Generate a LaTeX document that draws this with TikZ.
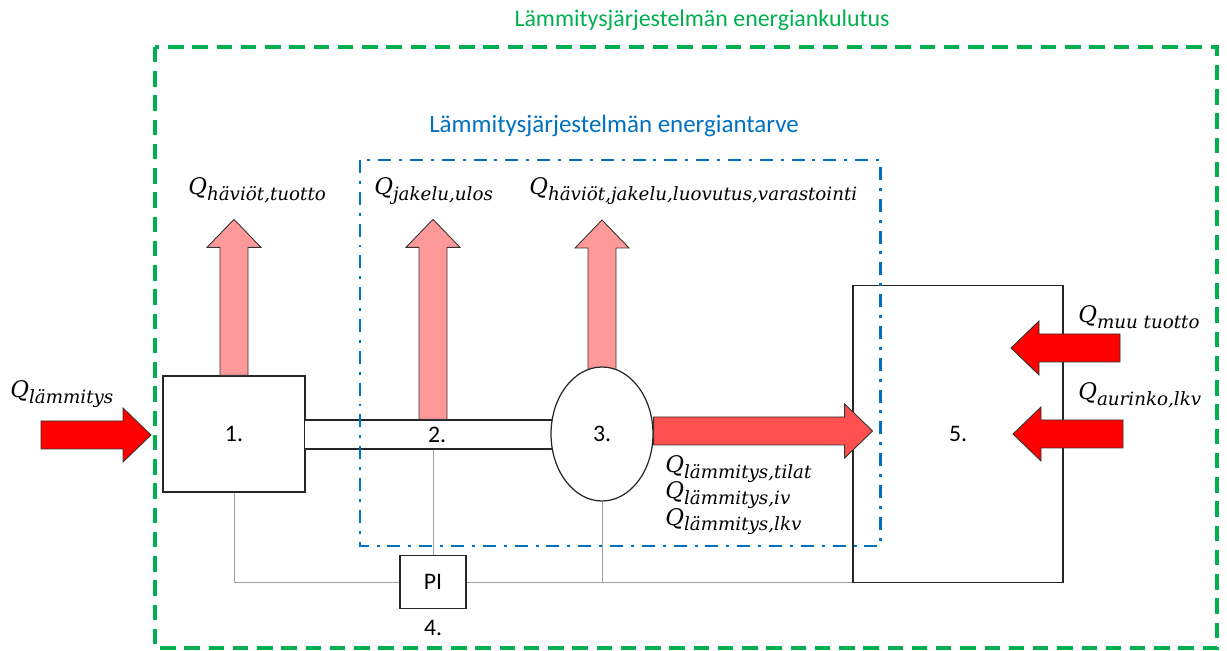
\documentclass[tikz,border=0pt]{standalone}
\usepackage{amsmath}
\usepackage{fontspec}
\usepackage{tikz}
\usetikzlibrary{shapes.geometric,backgrounds}
\newfontfamily\calibri{Carlito}
\newfontfamily\qfont{DejaVu Serif}
\definecolor{kulutus}{RGB}{0,176,80}
\definecolor{tarve}{RGB}{0,112,192}
\definecolor{hukka}{RGB}{255,153,153}
\definecolor{lampo}{RGB}{255,80,80}

% energy flow symbol: Q with a long italic index
\newcommand{\Q}[1]{{\qfont\itshape\fontsize{13}{15}\selectfont Q\raisebox{-0.5ex}{\fontsize{10.4}{12}\selectfont #1}}}

% block arrows, parameter = shaft length
\tikzset{
  pics/upblock/.style={code={
    \path[pic actions] (-14,0) -- (-14,-#1) -- (-27,-#1) -- (0,-#1-28) -- (27,-#1) -- (14,-#1) -- (14,0) -- cycle;}},
  pics/rightblock/.style={code={
    \path[pic actions] (0,-14) -- (#1,-14) -- (#1,-27) -- (#1+28,0) -- (#1,27) -- (#1,14) -- (0,14) -- cycle;}},
  pics/leftblock/.style={code={
    \path[pic actions] (0,-14) -- (-#1,-14) -- (-#1,-27) -- (-#1-28,0) -- (-#1,27) -- (-#1,14) -- (0,14) -- cycle;}},
}

\begin{document}
\begin{tikzpicture}[x=0.02cm, y=-0.02cm,
  box/.style={draw=black!85, fill=white, line width=0.7pt, inner sep=0pt, font=\calibri\fontsize{13.5}{15}\selectfont},
  ctrl/.style={draw=gray!75, line width=0.5pt},
  lbl/.style={anchor=base west, inner sep=0pt},
  loss/.style={draw=black!80, fill=hukka, line width=0.5pt},
  heat/.style={draw=black!80, fill=lampo, line width=0.5pt},
  feed/.style={draw=black!80, fill=red, line width=0.5pt},
]
\useasboundingbox (0,0) rectangle (1227,651);

% components
\node[box, minimum width=2.84cm, minimum height=2.32cm] (b1) at (234,434) {1.};
\node[box, minimum width=5.3cm, minimum height=0.58cm] (pipe) at (437,434.5) {2.};
\node[box, ellipse, minimum width=2.04cm, minimum height=2.68cm] (ell) at (602,434) {3.};
\node[box, minimum width=4.2cm, minimum height=5.94cm] (b5) at (958,434) {5.};
\node[box, minimum width=1.32cm, minimum height=1.06cm] (pi) at (433,582) {PI};
\node[font=\calibri\fontsize{13.5}{15}\selectfont] (n4) at (433,628) {4.};

% control lines
\draw[ctrl] (b1.south) |- (pi.west);
\draw[ctrl] (pi.east) -- (pi.east -| b5.west);
\draw[ctrl] (pi.north |- pipe.south) -- (pi.north);
\draw[ctrl] (ell.south) -- (ell.south |- pi.east);

% losses
\pic[loss] at (b1.north) {upblock=128};
\pic[loss] at (pi.north |- pipe.north) {upblock=172};
\begin{scope}[on background layer]
\pic[loss] at (ell.center) {upblock=186};
\end{scope}

% heat flows
\coordinate (in) at (41,435);
\pic[feed] at (in) {rightblock=82};
\pic[heat] at (ell.east |- 0,431) {rightblock=191};
\coordinate (muu) at (1120,348);
\coordinate (aur) at (1123,434);
\pic[feed] at (muu) {leftblock=81};
\pic[feed] at (aur) {leftblock=82};

% system borders
\draw[tarve, line width=1.7pt, dash pattern=on 7.4pt off 4.5pt on 1.7pt off 4.5pt] (360,160) rectangle (880,546);
\node[text=tarve, font=\calibri\fontsize{14.2}{16}\selectfont] (tarve) at (614,126) {Lämmitysjärjestelmän energiantarve};
\draw[kulutus, line width=2pt, dash pattern=on 8.8pt off 5pt] (155,47) rectangle (1217,648);
\node[text=kulutus, font=\calibri\fontsize{13.6}{16}\selectfont] (kulutus) at (702,20) {Lämmitysjärjestelmän energiankulutus};

% labels
\node[lbl] (qin) at (10,398) {\Q{lämmitys}};
\node[lbl] (qtuo) at (188,195) {\Q{häviöt,tuotto}};
\node[lbl] (qjak) at (374,195) {\Q{jakelu,ulos}};
\node[lbl] (qhav) at (529,195) {\Q{häviöt,jakelu,luovutus,varastointi}};
\node[lbl] (qtil) at (665,473) {\Q{lämmitys,tilat}};
\node[lbl] (qiv) at (665,499) {\Q{lämmitys,iv}};
\node[lbl] (qlkv) at (665,525) {\Q{lämmitys,lkv}};
\node[lbl] (qmuu) at (1078,323) {\Q{muu tuotto}};
\node[lbl] (qaur) at (1078,400) {\Q{aurinko,lkv}};
\end{tikzpicture}
\end{document}
